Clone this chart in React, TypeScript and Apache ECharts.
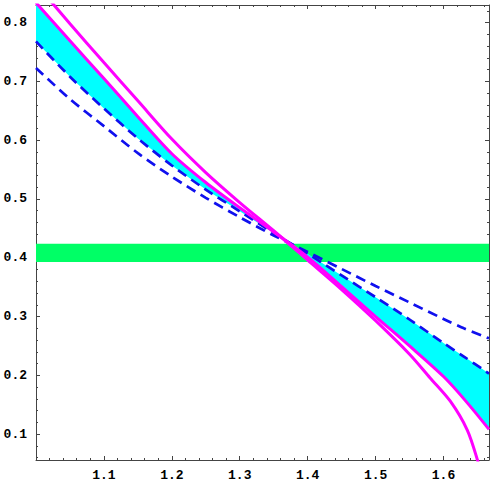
import React, { useEffect, useRef } from "react";
import * as echarts from "echarts";

const X_MIN = 1.0;
const X_MAX = 1.667;
const Y_MIN = 0.056;
const Y_MAX = 0.83;

const xMajorTicks = [1.0, 1.1, 1.2, 1.3, 1.4, 1.5, 1.6];
const xTickLabels = [1.1, 1.2, 1.3, 1.4, 1.5, 1.6];
const xMinorTicks = [1.02, 1.04, 1.06, 1.08, 1.12, 1.14, 1.16, 1.18, 1.22, 1.24, 1.26, 1.28, 1.32, 1.34, 1.36, 1.38, 1.42, 1.44, 1.46, 1.48, 1.52, 1.54, 1.56, 1.58, 1.62, 1.64, 1.66];
const yMajorTicks = [0.1, 0.2, 0.3, 0.4, 0.5, 0.6, 0.7, 0.8];
const yTickLabels = [0.1, 0.2, 0.3, 0.4, 0.5, 0.6, 0.7, 0.8];
const yMinorTicks = [0.06, 0.08, 0.12, 0.14, 0.16, 0.18, 0.22, 0.24, 0.26, 0.28, 0.32, 0.34, 0.36, 0.38, 0.42, 0.44, 0.46, 0.48, 0.52, 0.54, 0.56, 0.58, 0.62, 0.64, 0.66, 0.68, 0.72, 0.74, 0.76, 0.78, 0.82];

// shared x samples for the two inner curves (they bound the cyan band)
const bandX = [1.0, 1.05, 1.1, 1.15, 1.2, 1.25, 1.3, 1.35, 1.4, 1.45, 1.5, 1.55, 1.6, 1.63, 1.667];
const magentaInner = [0.834, 0.769, 0.705, 0.640, 0.577, 0.528, 0.485, 0.444, 0.401, 0.351, 0.300, 0.250, 0.198, 0.160, 0.108];
const blueInner = [0.768, 0.708, 0.654, 0.603, 0.557, 0.516, 0.479, 0.442, 0.407, 0.370, 0.333, 0.295, 0.255, 0.232, 0.203];
const blueOuter = [0.723, 0.670, 0.624, 0.578, 0.538, 0.502, 0.469, 0.438, 0.410, 0.381, 0.352, 0.324, 0.296, 0.280, 0.263];

const magentaOuterX = [1.0, 1.05, 1.1, 1.15, 1.2, 1.25, 1.3, 1.35, 1.4, 1.45, 1.5, 1.55, 1.58, 1.61, 1.635, 1.65, 1.66];
const magentaOuter = [0.866, 0.798, 0.732, 0.667, 0.602, 0.545, 0.494, 0.446, 0.396, 0.346, 0.293, 0.236, 0.196, 0.156, 0.107, 0.056, 0.01];

const greenBand = [0.393, 0.424];

const MAGENTA = "#ff00ff";
const BLUE = "#1010ee";
const CYAN = "#00ffff";
const GREEN = "#00ff66";
const AXIS = "#444";

const labelStyle = {
  fontFamily: "Liberation Mono",
  fontWeight: "bold" as const,
  fontSize: 13,
  color: "#000",
};

function pairs(xs: number[], ys: number[]) {
  return xs.map((x, i) => [x, ys[i]]);
}

function makeAxis(base: any, position: string, major: boolean, ticks: number[], labels: number[] | null) {
  return {
    ...base,
    position,
    axisLine: { show: major, lineStyle: { color: AXIS, width: 1 } },
    axisTick: { show: true, inside: true, length: major ? 4 : 2, customValues: ticks, lineStyle: { color: AXIS } },
    axisLabel: labels
      ? { ...labelStyle, show: true, margin: 9, customValues: labels }
      : { show: false },
  };
}

export default function App() {
  const ref = useRef<HTMLDivElement>(null);
  useEffect(() => {
    if (!ref.current) return;
    const chart = echarts.init(ref.current, null, { renderer: "svg" });
    const xBase = { type: "value", min: X_MIN, max: X_MAX, splitLine: { show: false } };
    const yBase = { type: "value", min: Y_MIN, max: Y_MAX, splitLine: { show: false } };
    const option: any = {
      animation: false,
      grid: { left: 36, right: 2, top: 5, bottom: 31, containLabel: false, outerBoundsMode: "none" },
      xAxis: [
        makeAxis(xBase, "bottom", true, xMajorTicks, xTickLabels),
        makeAxis(xBase, "bottom", false, xMinorTicks, null),
        makeAxis(xBase, "top", true, xMajorTicks, null),
        makeAxis(xBase, "top", false, xMinorTicks, null),
      ],
      yAxis: [
        makeAxis(yBase, "left", true, yMajorTicks, yTickLabels),
        makeAxis(yBase, "left", false, yMinorTicks, null),
        makeAxis(yBase, "right", true, yMajorTicks, null),
        makeAxis(yBase, "right", false, yMinorTicks, null),
      ],
      series: [
        {
          type: "line",
          z: 1,
          data: [],
          markArea: {
            silent: true,
            itemStyle: { color: GREEN, opacity: 1 },
            data: [[{ yAxis: greenBand[0] }, { yAxis: greenBand[1] }]],
          },
        },
        {
          type: "custom",
          z: 2,
          clip: true,
          silent: true,
          data: [[bandX[0], magentaInner[0]]],
          renderItem: (_params: any, api: any) => {
            const top = bandX.map((x, i) => api.coord([x, magentaInner[i]]));
            const bottom = bandX.map((x, i) => api.coord([x, blueInner[i]])).reverse();
            return {
              type: "polygon",
              shape: { points: top.concat(bottom) },
              style: { fill: CYAN, stroke: "none" },
            };
          },
        },
        {
          type: "line", z: 3, smooth: 0.3, symbol: "none",
          data: pairs(bandX, blueOuter),
          lineStyle: { color: BLUE, width: 2.7, type: [10, 6] },
        },
        {
          type: "line", z: 3, smooth: 0.3, symbol: "none",
          data: pairs(bandX, blueInner),
          lineStyle: { color: BLUE, width: 2.7, type: [10, 6] },
        },
        {
          type: "line", z: 4, smooth: 0.3, symbol: "none",
          data: pairs(magentaOuterX, magentaOuter),
          lineStyle: { color: MAGENTA, width: 3 },
        },
        {
          type: "line", z: 4, smooth: 0.3, symbol: "none",
          data: pairs(bandX, magentaInner),
          lineStyle: { color: MAGENTA, width: 3 },
        },
      ],
    };
    chart.setOption(option);
    return () => chart.dispose();
  }, []);
  return (
    <div
      ref={ref}
      style={{ position: "absolute", left: 0, top: 0, width: 491, height: 491, background: "#fff" }}
    />
  );
}
